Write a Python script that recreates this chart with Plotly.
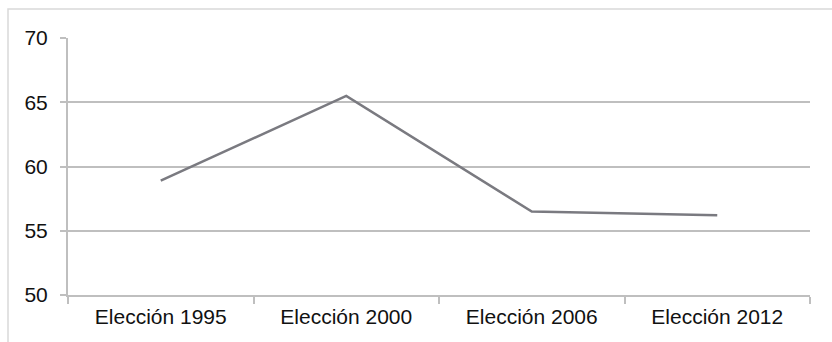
import plotly.graph_objects as go

# Participación por elección
elecciones = ["Elección 1995", "Elección 2000", "Elección 2006", "Elección 2012"]
participacion = [58.9, 65.5, 56.5, 56.2]
y_ticks = [50, 55, 60, 65, 70]

W, H = 832, 342
L, R, T, B = 68, 22, 38, 47
pw, ph = W - L - R, H - T - B

grid_col = "#bfbfbf"
font = dict(family="Liberation Sans, Arial, sans-serif", size=21, color="#111111")

fig = go.Figure(
    go.Scatter(
        x=elecciones,
        y=participacion,
        mode="lines",
        line=dict(color="#7a7a80", width=2.5),
        hoverinfo="x+y",
    )
)

# outer chart frame (left and top edges visible)
fig.add_shape(
    type="rect",
    xref="paper", yref="paper",
    x0=(8 - L) / pw, x1=(W + 10 - L) / pw,
    y0=-(B + 10) / ph, y1=1 + (T - 9) / ph,
    line=dict(color="#d9d9d9", width=1.5),
    fillcolor="rgba(0,0,0,0)",
    layer="below",
)

fig.update_layout(
    width=W, height=H,
    margin=dict(l=L, r=R, t=T, b=B),
    paper_bgcolor="white",
    plot_bgcolor="white",
    showlegend=False,
    font=font,
    xaxis=dict(
        type="category",
        tickson="boundaries",
        ticks="outside",
        ticklen=7,
        tickwidth=1.5,
        tickcolor=grid_col,
        showline=True,
        linecolor=grid_col,
        linewidth=2,
        showgrid=False,
        tickfont=font,
        range=[-0.5, 3.5],
        ticklabelstandoff=2,
    ),
    yaxis=dict(
        range=[50, 70],
        tickvals=y_ticks,
        ticktext=[str(v) for v in y_ticks],
        ticks="outside",
        ticklen=6,
        tickwidth=1.5,
        tickcolor=grid_col,
        showline=True,
        linecolor=grid_col,
        linewidth=2,
        showgrid=True,
        gridcolor=grid_col,
        gridwidth=2,
        zeroline=False,
        tickfont=font,
        ticklabelstandoff=8,
    ),
)

fig.write_html("out.html")
